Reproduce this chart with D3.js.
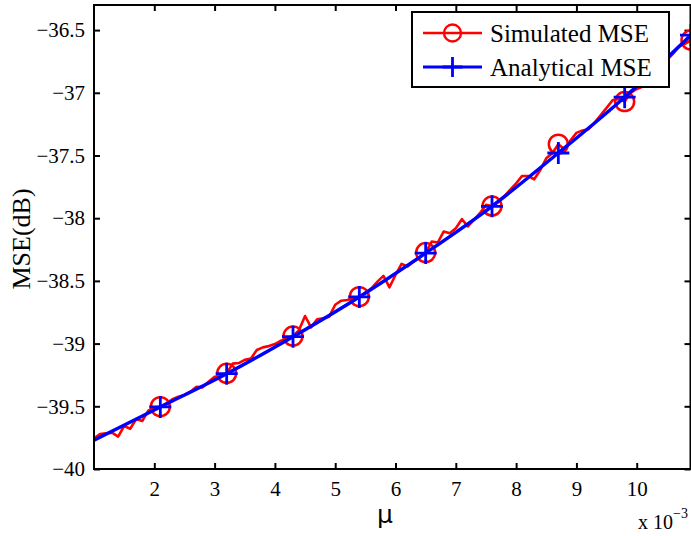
<!DOCTYPE html>
<html><head><meta charset="utf-8">
<script src="https://cdn.jsdelivr.net/npm/d3@7"></script>
<style>body{margin:0;background:#fff}svg{display:block}</style>
</head><body><svg id="c" width="691" height="536"></svg>
<script>
const muValues = [1.0,1.1,1.2,1.3,1.4,1.5,1.6,1.7,1.8,1.9,2.0,2.1,2.2,2.3,2.4,2.5,2.6,2.7,2.8,2.9,3.0,3.1,3.2,3.3,3.4,3.5,3.6,3.7,3.8,3.9,4.0,4.1,4.2,4.3,4.4,4.5,4.6,4.7,4.8,4.9,5.0,5.1,5.2,5.3,5.4,5.5,5.6,5.7,5.8,5.9,6.0,6.1,6.2,6.3,6.4,6.5,6.6,6.7,6.8,6.9,7.0,7.1,7.2,7.3,7.4,7.5,7.6,7.7,7.8,7.9,8.0,8.1,8.2,8.3,8.4,8.5,8.6,8.7,8.8,8.9,9.0,9.1,9.2,9.3,9.4,9.5,9.6,9.7,9.8,9.9,10.0,10.1,10.2,10.3,10.4,10.5,10.6,10.7,10.8,10.9];
const simulatedMSE = [-39.755,-39.722,-39.716,-39.71,-39.742,-39.657,-39.679,-39.601,-39.617,-39.535,-39.508,-39.503,-39.476,-39.444,-39.424,-39.41,-39.384,-39.344,-39.349,-39.304,-39.264,-39.258,-39.237,-39.16,-39.155,-39.13,-39.12,-39.051,-39.03,-39.02,-39.004,-38.977,-38.958,-38.94,-38.892,-38.78,-38.87,-38.806,-38.798,-38.785,-38.69,-38.658,-38.652,-38.639,-38.626,-38.594,-38.559,-38.506,-38.46,-38.551,-38.453,-38.364,-38.385,-38.346,-38.311,-38.274,-38.186,-38.194,-38.106,-38.12,-38.08,-38.008,-38.066,-38.013,-37.96,-37.894,-37.903,-37.868,-37.828,-37.775,-37.722,-37.663,-37.663,-37.69,-37.616,-37.522,-37.482,-37.41,-37.45,-37.38,-37.32,-37.30,-37.29,-37.24,-37.18,-37.12,-37.06,-37.05,-37.07,-37.00,-36.97,-36.95,-36.90,-36.85,-36.80,-36.74,-36.69,-36.63,-36.61,-36.58];
const analyticalMu = [1.0,2.1,3.2,4.3,5.4,6.5,7.6,8.7,9.8,10.9];
const analyticalMSE = [-39.77,-39.505,-39.24,-38.945,-38.628,-38.278,-37.905,-37.48,-37.035,-36.54];
const markerMu = [2.1,3.2,4.3,5.4,6.5,7.6,8.7,9.8,10.9];
const xTicks = [2,3,4,5,6,7,8,9,10];
const yTicks = [-40,-39.5,-39,-38.5,-38,-37.5,-37,-36.5];
const seriesNames = ["Simulated MSE","Analytical MSE"];

const svg = d3.select("#c");
const L = 94, R = 691, T = 5, B = 469;
const x = d3.scaleLinear().domain([1, 10.9]).range([L, R]);
const y = d3.scaleLinear().domain([-40, -36.3]).range([B, T]);
const serif = "'Liberation Serif','Times New Roman',serif";

svg.append("clipPath").attr("id","pc").append("rect")
  .attr("x", L).attr("y", T).attr("width", R - L).attr("height", B - T);

const tl = 6;
const gx = svg.append("g").attr("transform", `translate(0,${B})`)
  .call(d3.axisBottom(x).tickValues(xTicks).tickSize(-tl).tickPadding(12).tickFormat(d3.format("d")));
const gxt = svg.append("g").attr("transform", `translate(0,${T})`)
  .call(d3.axisTop(x).tickValues(xTicks).tickSize(-tl).tickFormat(""));
const gy = svg.append("g").attr("transform", `translate(${L},0)`)
  .call(d3.axisLeft(y).tickValues(yTicks).tickSize(-tl).tickPadding(9).tickFormat(d => d3.format("")(d).replace("-", "\u2212")));
const gyr = svg.append("g").attr("transform", `translate(${R - 0.5},0)`)
  .call(d3.axisRight(y).tickValues(yTicks).tickSize(-tl).tickFormat(""));
[gx, gxt, gy, gyr].forEach(g => {
  g.select(".domain").remove();
  g.selectAll(".tick line").attr("stroke", "#000").attr("stroke-width", 2);
  g.selectAll(".tick text").attr("font-family", serif).attr("font-size", 21).attr("fill", "#000");
});
gx.selectAll(".tick text").attr("dy", "0.71em");

const gp = svg.append("g").attr("clip-path", "url(#pc)");
const simPts = muValues.map((m, i) => [m, simulatedMSE[i]]);
const anaPts = analyticalMu.map((m, i) => [m, analyticalMSE[i]]);
const line = d3.line().x(d => x(d[0])).y(d => y(d[1]));
gp.append("path").attr("d", line(simPts)).attr("fill", "none").attr("stroke", "#ff0000").attr("stroke-width", 2.6).attr("stroke-linejoin", "round");
const simMarks = simPts.filter(p => markerMu.some(m => Math.abs(m - p[0]) < 1e-9));
gp.selectAll("circle.sm").data(simMarks).join("circle").attr("class", "sm")
  .attr("cx", d => x(d[0])).attr("cy", d => y(d[1])).attr("r", 9.5)
  .attr("fill", "none").attr("stroke", "#ff0000").attr("stroke-width", 2.5);
const lineC = d3.line().x(d => x(d[0])).y(d => y(d[1])).curve(d3.curveMonotoneX);
gp.append("path").attr("d", lineC(anaPts)).attr("fill", "none").attr("stroke", "#0000ff").attr("stroke-width", 3.4);
const anaMarks = anaPts.filter(p => markerMu.some(m => Math.abs(m - p[0]) < 1e-9));
const cs = 11;
gp.selectAll("path.am").data(anaMarks).join("path").attr("class", "am")
  .attr("d", d => `M${x(d[0]) - cs},${y(d[1])}H${x(d[0]) + cs}M${x(d[0])},${y(d[1]) - cs}V${y(d[1]) + cs}`)
  .attr("stroke", "#0000ff").attr("stroke-width", 2.8);

svg.append("path").attr("d", `M${L},${T}H${R - 0.5}V${B}H${L}Z`).attr("fill", "none").attr("stroke", "#000").attr("stroke-width", 2);

const lg = svg.append("g");
lg.append("rect").attr("x", 412).attr("y", 12).attr("width", 257).attr("height", 75)
  .attr("fill", "#fff").attr("stroke", "#000").attr("stroke-width", 2);
const legY = [33, 67];
lg.append("line").attr("x1", 423).attr("x2", 482).attr("y1", legY[0]).attr("y2", legY[0]).attr("stroke", "#ff0000").attr("stroke-width", 2.6);
lg.append("circle").attr("cx", 452.5).attr("cy", legY[0]).attr("r", 8.5).attr("fill", "none").attr("stroke", "#ff0000").attr("stroke-width", 2.4);
lg.append("line").attr("x1", 423).attr("x2", 482).attr("y1", legY[1]).attr("y2", legY[1]).attr("stroke", "#0000ff").attr("stroke-width", 2.8);
lg.append("path").attr("d", `M${452.5 - 10},${legY[1]}H${452.5 + 10}M452.5,${legY[1] - 10}V${legY[1] + 10}`).attr("stroke", "#0000ff").attr("stroke-width", 2.8);
seriesNames.forEach((n, i) => {
  lg.append("text").attr("x", 490).attr("y", legY[i] + 9).attr("font-family", serif).attr("font-size", 25).attr("fill", "#000").text(n);
});

svg.append("text").attr("x", 385).attr("y", 523).attr("text-anchor", "middle")
  .attr("font-family", "'DejaVu Sans',sans-serif").attr("font-size", 25).attr("fill", "#000").text("\u03bc");
svg.append("text").attr("transform", "translate(30,239) rotate(-90)").attr("text-anchor", "middle")
  .attr("font-family", serif).attr("font-size", 26).attr("fill", "#000").text("MSE(dB)");
const sc = svg.append("text").attr("x", 638).attr("y", 529).attr("font-family", serif).attr("font-size", 20).attr("fill", "#000");
sc.append("tspan").text("x 10");
sc.append("tspan").attr("dy", -11).attr("font-size", 14).text("\u22123");
</script></body></html>
